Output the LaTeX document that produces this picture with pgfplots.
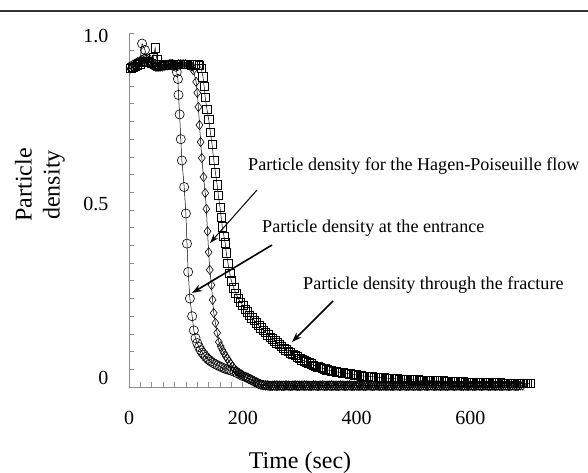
\documentclass[border=0pt]{standalone}
\usepackage{pgfplots}
\pgfplotsset{compat=1.18}
\usepackage{fontspec}
\setmainfont{Liberation Serif}
\usetikzlibrary{arrows.meta}

\begin{document}
\begin{tikzpicture}
\useasboundingbox (0pt,0pt) rectangle (588pt,473pt);
\draw[black!80, line width=1.6pt] (0pt,462pt) -- (588pt,462pt);
\begin{axis}[
  at={(129pt,86pt)}, anchor=south west,
  scale only axis, width=401pt, height=354pt,
  xmin=0, xmax=705, ymin=0, ymax=1,
  axis x line*=bottom, axis y line*=left,
  axis line style={-, black!45, line width=0.7pt},
  xtick={0,200,400,600}, ytick={0,0.5,1}, yticklabels={},
  extra y ticks={0.025,0.518,0.992}, extra y tick labels={0,0.5,1.0},
  extra y tick style={major tick length=0pt},
  minor x tick num=9, minor y tick num=9,
  tick align=inside, major tick length=5pt, minor tick length=5pt,
  tick style={black!45, line width=0.6pt},
  /pgf/number format/assume math mode=true,
  tick label style={font=\fontsize{20}{24}\selectfont},
  xticklabel style={yshift=-21pt},
  yticklabel style={xshift=-17pt},
  clip=false,
  every axis plot/.append style={black, line width=0.5pt},
]
% through the fracture (squares)
\addplot[mark=square, mark size=4.2pt, mark options={draw=black, line width=0.6pt}] coordinates {
(3,0.900)(7,0.903)(11,0.906)(15,0.910)(19,0.913)(23,0.918)(27,0.920)(31,0.919)(35,0.917)(39,0.915)(43,0.930)(46,0.958)(49,0.925)(53,0.912)
(57,0.910)(61,0.908)(65,0.908)(69,0.909)(73,0.910)(77,0.910)(81,0.912)(85,0.912)(89,0.912)(93,0.912)(97,0.912)(101,0.912)(105,0.912)(109,0.910)(113,0.912)
(117,0.912)(121,0.910)(124,0.908)(127,0.900)
(130,0.876)(132,0.850)(134,0.819)(137,0.785)(140,0.757)(143,0.720)(146,0.686)(149,0.641)(152,0.605)(155,0.571)(157,0.542)
(160,0.508)(162,0.480)(164,0.452)(167,0.425)(169,0.407)(171,0.379)(174,0.350)(177,0.322)(180,0.300)(184,0.280)(188,0.264)
(192,0.250)(196,0.240)
(200,0.230)(204,0.220)(208,0.212)(212,0.203)(216,0.195)(220,0.188)(224,0.181)(228,0.174)(232,0.167)(236,0.161)(240,0.154)
(244,0.147)(248,0.141)(252,0.136)(256,0.130)(260,0.125)(264,0.120)(268,0.115)(272,0.110)(276,0.105)(280,0.101)(284,0.097)
(288,0.093)(292,0.089)(296,0.085)(300,0.081)(304,0.077)(308,0.074)(312,0.071)(316,0.068)(320,0.065)(324,0.062)(328,0.059)
(332,0.057)(336,0.055)(340,0.053)(344,0.051)(348,0.049)(352,0.047)(356,0.046)(360,0.045)(364,0.043)(368,0.042)(372,0.041)
(376,0.040)(380,0.039)(384,0.038)(388,0.037)(392,0.036)(396,0.035)(400,0.034)(404,0.033)(408,0.032)(412,0.031)(416,0.031)
(420,0.030)(424,0.029)(428,0.029)(432,0.028)(436,0.027)(440,0.027)(444,0.026)(448,0.026)(452,0.025)(456,0.025)(460,0.024)
(464,0.024)(468,0.023)(472,0.023)(476,0.022)(480,0.022)(484,0.022)(488,0.021)(492,0.021)(496,0.021)(500,0.020)(504,0.020)
(508,0.020)(512,0.019)(516,0.019)(520,0.019)(524,0.018)(528,0.018)(532,0.018)(536,0.018)(540,0.017)(544,0.017)(548,0.017)
(552,0.017)(556,0.016)(560,0.016)(564,0.016)(568,0.016)(572,0.015)(576,0.015)(580,0.015)(584,0.015)(588,0.015)(592,0.014)
(596,0.014)(600,0.014)(604,0.014)(608,0.014)(612,0.013)(616,0.013)(620,0.013)(624,0.013)(628,0.013)(632,0.012)(636,0.012)
(640,0.012)(644,0.012)(648,0.012)(652,0.012)(656,0.011)(660,0.011)(664,0.011)(668,0.011)(672,0.011)(676,0.011)(680,0.011)
(684,0.010)(688,0.010)(692,0.010)(696,0.010)(700,0.010)(705,0.010)
};
% Hagen-Poiseuille (diamonds)
\addplot[mark=diamond, mark size=4.6pt, mark options={draw=black, line width=0.6pt}] coordinates {
(3,0.900)(7,0.904)(11,0.909)(15,0.914)(19,0.918)(23,0.925)(27,0.930)(31,0.927)(35,0.922)(39,0.915)(43,0.908)(47,0.905)(51,0.905)
(55,0.905)(59,0.905)(63,0.907)(67,0.908)(71,0.910)(75,0.910)(79,0.910)(83,0.910)(87,0.912)(91,0.912)(95,0.912)(99,0.912)
(103,0.910)(107,0.910)(111,0.905)(113,0.895)
(118,0.862)(120,0.831)(122,0.791)(124,0.740)(126,0.692)(128,0.647)(131,0.593)(134,0.548)(136,0.503)(138,0.440)(140,0.381)
(142,0.331)(145,0.288)(147,0.246)(149,0.209)(152,0.181)(155,0.153)(158,0.127)(161,0.115)(164,0.105)(167,0.096)(170,0.087)
(173,0.080)(176,0.072)(179,0.065)(182,0.058)(185,0.052)(188,0.047)(191,0.043)(194,0.039)(197,0.036)(200,0.033)(204,0.029)
(208,0.026)(212,0.023)(216,0.020)(220,0.016)(224,0.012)(228,0.008)(232,0.006)(236,0.005)
(240,0.004)(244,0.005)(248,0.004)(252,0.003)(256,0.004)(260,0.005)(264,0.004)(268,0.003)(272,0.004)(276,0.005)(280,0.004)
(284,0.003)(288,0.004)(292,0.005)(296,0.004)(300,0.003)(304,0.004)(308,0.005)(312,0.004)(316,0.003)(320,0.004)(324,0.005)
(328,0.004)(332,0.003)(336,0.004)(340,0.005)(344,0.004)(348,0.003)(352,0.004)(356,0.005)(360,0.004)(364,0.003)(368,0.004)
(372,0.005)(376,0.004)(380,0.003)(384,0.004)(388,0.005)(392,0.004)(396,0.003)(400,0.004)(404,0.005)(408,0.004)(412,0.003)
(416,0.004)(420,0.005)(424,0.004)(428,0.003)(432,0.004)(436,0.005)(440,0.004)(444,0.003)(448,0.004)(452,0.005)(456,0.004)
(460,0.003)(464,0.004)(468,0.005)(472,0.004)(476,0.003)(480,0.004)(484,0.005)(488,0.004)(492,0.003)(496,0.004)(500,0.005)
(504,0.004)(508,0.003)(512,0.004)(516,0.005)(520,0.004)(524,0.003)(528,0.004)(532,0.005)(536,0.004)(540,0.003)(544,0.004)
(548,0.005)(552,0.004)(556,0.003)(560,0.004)(564,0.005)(568,0.004)(572,0.003)(576,0.004)(580,0.005)(584,0.004)(588,0.003)
(592,0.004)(596,0.005)(600,0.004)(604,0.003)(608,0.004)(612,0.005)(616,0.004)(620,0.003)(624,0.004)(628,0.005)(632,0.004)
(636,0.003)(640,0.004)(644,0.005)(648,0.004)(652,0.003)(656,0.004)(660,0.005)(664,0.004)(668,0.003)(672,0.004)(676,0.005)
(680,0.004)(684,0.003)(688,0.004)(692,0.004)
};
% entrance (circles)
\addplot[mark=o, mark size=4.6pt, mark options={draw=black, line width=0.6pt}] coordinates {
(3,0.905)(7,0.908)(11,0.912)(15,0.916)(19,0.920)(23,0.970)(28,0.952)(32,0.928)(36,0.918)(40,0.912)(44,0.908)(48,0.905)
(52,0.905)(56,0.907)(60,0.909)(64,0.910)(68,0.910)(72,0.912)(76,0.912)(80,0.910)(82,0.905)(84,0.890)
(86,0.870)(87,0.825)(89,0.770)(91,0.700)(93,0.640)(97,0.565)(100,0.490)(102,0.405)(104,0.325)(107,0.250)(111,0.200)
(114,0.160)(117,0.138)(120,0.124)(123,0.113)(126,0.104)(129,0.097)(132,0.091)(135,0.085)(138,0.080)(141,0.076)(144,0.072)
(148,0.068)(152,0.064)(156,0.061)(160,0.058)(164,0.055)(168,0.052)(172,0.050)(176,0.048)(180,0.046)(185,0.043)(190,0.039)
(195,0.035)(200,0.031)(205,0.028)(210,0.024)(215,0.020)(220,0.016)(225,0.012)(230,0.008)(235,0.006)(240,0.005)
(244,0.004)(248,0.003)(252,0.004)(256,0.004)(260,0.003)(264,0.004)(268,0.004)(272,0.003)(276,0.004)(280,0.004)(284,0.003)
(288,0.004)(292,0.004)(296,0.003)(300,0.004)(304,0.004)(308,0.003)(312,0.004)(316,0.004)(320,0.003)(324,0.004)(328,0.004)
(332,0.003)(336,0.004)(340,0.004)(344,0.003)(348,0.004)(352,0.004)(356,0.003)(360,0.004)(364,0.004)(368,0.003)(372,0.004)
(376,0.004)(380,0.003)(384,0.004)(388,0.004)(392,0.003)(396,0.004)(400,0.004)(404,0.003)(408,0.004)(412,0.004)(416,0.003)
(420,0.004)(424,0.004)(428,0.003)(432,0.004)(436,0.004)(440,0.003)(444,0.004)(448,0.004)(452,0.003)(456,0.004)(460,0.004)
(464,0.003)(468,0.004)(472,0.004)(476,0.003)(480,0.004)(484,0.004)(488,0.003)(492,0.004)(496,0.004)(500,0.003)(504,0.004)
(508,0.004)(512,0.003)(516,0.004)(520,0.004)(524,0.003)(528,0.004)(532,0.004)(536,0.003)(540,0.004)(544,0.004)(548,0.003)
(552,0.004)(556,0.004)(560,0.003)(564,0.004)(568,0.004)(572,0.003)(576,0.004)(580,0.004)(584,0.003)(588,0.004)(592,0.004)
(596,0.003)(600,0.004)(604,0.004)(608,0.003)(612,0.004)(616,0.004)(620,0.003)(624,0.004)(628,0.004)(632,0.003)(636,0.004)
(640,0.004)(644,0.003)(648,0.004)(652,0.004)(656,0.003)(660,0.004)(664,0.004)(668,0.003)(672,0.004)(676,0.004)(680,0.003)
(684,0.004)
};
\end{axis}
% axis labels
\node[rotate=90, align=center, font=\fontsize{24}{28}\selectfont] at (40pt,288pt) {Particle\\density};
\node[anchor=base, font=\fontsize{24}{28}\selectfont] at (300pt,5pt) {Time (sec)};
% annotations
\node[anchor=west, inner sep=0pt, font=\fontsize{18.1}{22}\selectfont] at (248pt,307pt) {Particle density for the Hagen-Poiseuille flow};
\node[anchor=west, inner sep=0pt, font=\fontsize{18.1}{22}\selectfont] at (262pt,245pt) {Particle density at the entrance};
\node[anchor=west, inner sep=0pt, font=\fontsize{18.1}{22}\selectfont] at (303pt,188pt) {Particle density through the fracture};
\draw[black, line width=1pt, -{Stealth[length=9pt,width=6pt]}] (257pt,283pt) -- (210pt,230pt);
\draw[black, line width=1.6pt, -{Stealth[length=10pt,width=7pt]}] (272pt,228pt) -- (192pt,180pt);
\draw[black, line width=1.6pt, -{Stealth[length=10pt,width=7pt]}] (333pt,172pt) -- (292pt,131pt);
\end{tikzpicture}
\end{document}
